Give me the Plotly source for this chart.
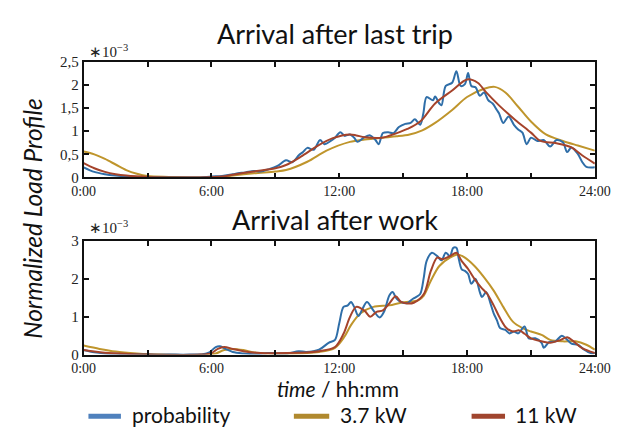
import plotly.graph_objects as go

# ---------------- data (values in units of 1e-3) ----------------
# Top panel: Arrival after last trip
top_prob_t = [0, 0.5, 1.0, 1.5, 2.0, 2.5, 3, 4, 5, 5.5, 6.0, 6.5, 7.0, 7.25, 7.6, 8.0, 8.3, 8.7, 9.1, 9.5,
              9.8, 10.1, 10.3, 10.5, 10.8, 11.1, 11.3, 11.6, 11.8, 12.05, 12.25, 12.5, 12.7, 12.85, 13.15,
              13.45, 13.7, 13.85, 14.05, 14.3, 14.55, 14.8, 15.1, 15.35, 15.55, 15.8, 15.95, 16.1, 16.4,
              16.5, 16.7, 16.8, 17.0, 17.3, 17.5, 17.7, 17.9, 18.05, 18.2, 18.4, 18.6, 18.8, 19.0, 19.2,
              19.4, 19.5, 19.7, 19.95, 20.2, 20.4, 20.6, 20.8, 21.0, 21.3, 21.6, 21.9, 22.2, 22.5, 22.7,
              22.9, 23.2, 23.4, 23.6, 24.0]
top_prob_v = [0.22, 0.12, 0.07, 0.04, 0.02, 0.01, 0.0, 0.0, 0.0, 0.0, 0.02, 0.03, 0.07, 0.09, 0.11, 0.14, 0.13,
              0.18, 0.25, 0.37, 0.33, 0.48, 0.55, 0.64, 0.60, 0.81, 0.72, 0.79, 0.86, 0.98, 0.90, 0.93, 0.86,
              0.77, 0.86, 0.91, 0.81, 0.72, 0.96, 0.98, 0.96, 1.09, 1.16, 1.18, 1.26, 1.14, 1.39, 1.74, 1.67,
              1.75, 1.60, 1.56, 1.98, 2.05, 2.30, 1.98, 2.02, 2.26, 1.98, 1.95, 1.77, 1.84, 1.67, 1.60, 1.46,
              1.39, 1.18, 1.32, 1.14, 1.04, 0.97, 0.72, 0.86, 0.79, 0.81, 0.67, 0.81, 0.76, 0.55, 0.65, 0.51,
              0.34, 0.23, 0.22]

top_11kw_t = [0, 0.5, 1, 1.5, 2, 3, 4, 5.5, 6.5, 7, 8.0, 9.0, 9.5, 10.2, 11.0, 11.7, 12.5, 12.8, 13.2, 14.0,
              14.7, 15.2, 15.8, 16.5, 17.3, 18.0, 18.5, 18.9, 19.5, 20.25, 21.0, 21.45, 22.2, 22.9, 23.4, 24.0]
top_11kw_v = [0.31, 0.20, 0.12, 0.07, 0.04, 0.01, 0.0, 0.0, 0.02, 0.06, 0.13, 0.20, 0.27, 0.45, 0.69, 0.85,
              0.93, 0.91, 0.87, 0.86, 0.96, 1.05, 1.21, 1.60, 1.88, 2.12, 2.05, 1.84, 1.56, 1.25, 0.97, 0.79,
              0.74, 0.65, 0.48, 0.30]

top_37kw_t = [0, 0.5, 1, 1.5, 2, 2.5, 3, 4, 5, 6, 6.5, 7, 8, 9, 9.5, 10.5, 11.4, 12.5, 13.2, 14.0, 14.7,
              15.3, 15.9, 16.5, 17.3, 18.0, 18.8, 19.3, 19.8, 20.4, 21.0, 21.7, 22.5, 23.2, 24.0]
top_37kw_v = [0.56, 0.50, 0.40, 0.28, 0.16, 0.08, 0.03, 0.01, 0.0, 0.0, 0.01, 0.04, 0.09, 0.13, 0.16, 0.34,
              0.58, 0.77, 0.82, 0.86, 0.89, 0.93, 1.02, 1.18, 1.46, 1.74, 1.92, 1.96, 1.84, 1.53, 1.21, 0.93,
              0.79, 0.69, 0.58]

# Bottom panel: Arrival after work
bot_prob_t = [0, 0.5, 1, 1.5, 2, 3, 4, 5, 5.6, 5.9, 6.2, 6.4, 6.7, 7.0, 7.5, 8.1, 8.65, 9.1, 9.55, 10.1,
              10.45, 11.05, 11.5, 11.8, 12.0, 12.2, 12.4, 12.55, 12.7, 12.9, 13.1, 13.3, 13.6, 13.9, 14.1,
              14.35, 14.5, 14.7, 14.9, 15.2, 15.4, 15.6, 15.8, 15.97, 16.1, 16.35, 16.6, 16.8, 17.0, 17.2,
              17.35, 17.5, 17.6, 17.75, 17.9, 18.05, 18.2, 18.4, 18.6, 18.7, 18.9, 19.1, 19.25, 19.4, 19.55,
              19.8, 20.0, 20.2, 20.4, 20.7, 20.9, 21.2, 21.5, 21.6, 21.85, 22.15, 22.45, 22.7, 22.9, 23.2,
              23.5, 23.8, 24.0]
bot_prob_v = [0.12, 0.06, 0.03, 0.02, 0.01, 0.0, 0.0, 0.0, 0.01, 0.06, 0.20, 0.22, 0.14, 0.07, 0.03, 0.01,
              0.04, 0.03, 0.03, 0.09, 0.07, 0.13, 0.31, 0.39, 0.83, 1.26, 1.30, 1.39, 1.26, 1.02, 1.22, 1.39,
              1.17, 0.98, 1.13, 1.56, 1.65, 1.47, 1.39, 1.36, 1.45, 1.52, 1.60, 2.04, 2.47, 2.69, 2.60, 2.49,
              2.69, 2.60, 2.82, 2.82, 2.56, 2.25, 2.21, 2.13, 1.87, 2.00, 1.65, 1.52, 1.65, 1.35, 1.09, 0.91,
              0.70, 0.65, 0.56, 0.61, 0.56, 0.74, 0.43, 0.43, 0.31, 0.18, 0.33, 0.35, 0.50, 0.39, 0.29, 0.26,
              0.13, 0.04, 0.04]

bot_11kw_t = [0, 0.5, 1, 2, 3, 5.5, 6.0, 6.3, 6.6, 7.0, 7.5, 8.1, 9.55, 11.05, 11.8, 12.2, 12.5, 12.8, 13.2,
              13.45, 13.75, 14.05, 14.35, 14.65, 14.9, 15.2, 15.5, 15.97, 16.3, 16.6, 16.85, 17.2, 17.5,
              17.75, 18.05, 18.35, 18.65, 18.95, 19.25, 19.55, 19.85, 20.15, 20.45, 20.7, 21.0, 21.5, 21.9,
              22.4, 22.7, 23.0, 23.4, 24.0]
bot_11kw_v = [0.12, 0.08, 0.05, 0.02, 0.0, 0.0, 0.04, 0.15, 0.20, 0.15, 0.09, 0.05, 0.04, 0.09, 0.20, 0.55,
              0.99, 1.26, 1.15, 1.00, 1.13, 1.17, 1.35, 1.54, 1.39, 1.35, 1.37, 1.60, 2.21, 2.56, 2.52, 2.60,
              2.69, 2.47, 2.26, 2.00, 1.78, 1.60, 1.30, 0.96, 0.70, 0.61, 0.64, 0.55, 0.43, 0.35, 0.31, 0.39,
              0.46, 0.35, 0.17, 0.04]

bot_37kw_t = [0, 0.75, 1.5, 2.5, 3.5, 5.8, 6.2, 6.6, 7.0, 7.5, 8.1, 9.55, 11.05, 11.8, 12.25, 12.55, 13.0,
              13.6, 14.35, 14.9, 15.5, 15.7, 15.97, 16.3, 16.7, 17.2, 17.6, 17.9, 18.35, 18.8, 19.25, 19.7,
              20.15, 20.6, 21.0, 21.5, 21.9, 22.5, 23.1, 23.6, 24.0]
bot_37kw_v = [0.24, 0.15, 0.08, 0.03, 0.0, 0.0, 0.03, 0.12, 0.15, 0.12, 0.05, 0.03, 0.07, 0.18, 0.48, 0.78,
              1.09, 1.26, 1.30, 1.37, 1.41, 1.43, 1.56, 1.95, 2.34, 2.56, 2.64, 2.56, 2.34, 2.04, 1.69, 1.26,
              0.87, 0.70, 0.61, 0.52, 0.39, 0.35, 0.35, 0.26, 0.13]

x_tickvals = [0, 6, 12, 18, 24]
x_ticktext = ["0:00", "6:00", "12:00", "18:00", "24:00"]
x_minor_tickvals = [3, 9, 15, 21]
top_y_tickvals = [0, 0.5, 1, 1.5, 2, 2.5]
top_y_ticktext = ["0", "0,5", "1", "1,5", "2", "2,5"]
bot_y_tickvals = [0, 1, 2, 3]
bot_y_ticktext = ["0", "1", "2", "3"]

series_names = ["probability", "3.7 kW", "11 kW"]

# ---------------- style ----------------
W, H = 629, 430
C_PROB = "#2f6ea8"
C_37 = "#bf952c"
C_11 = "#a5432b"
LEG_PROB = "#4f81bd"
LEG_37 = "#b0892e"
LEG_11 = "#a0452e"
SERIF = "Liberation Serif"
SANS = "Lato"


def px_x(p):
    return p / W


def px_y(p):
    return 1 - p / H


fig = go.Figure()

def add(t, v, color, xa, ya, width=2.0):
    fig.add_trace(go.Scatter(x=t, y=v, mode="lines", xaxis=xa, yaxis=ya, showlegend=False,
                             line=dict(color=color, width=width, shape="spline", smoothing=0.9),
                             hoverinfo="skip"))

add(top_37kw_t, top_37kw_v, C_37, "x", "y")
add(top_prob_t, top_prob_v, C_PROB, "x", "y")
add(top_11kw_t, top_11kw_v, C_11, "x", "y")
add(bot_37kw_t, bot_37kw_v, C_37, "x2", "y2")
add(bot_prob_t, bot_prob_v, C_PROB, "x2", "y2")
add(bot_11kw_t, bot_11kw_v, C_11, "x2", "y2")

xcommon = dict(range=[0, 24], tickvals=x_tickvals, ticktext=x_ticktext, ticks="inside", ticklen=5,
               tickwidth=1.5, tickcolor="#111", mirror="allticks", showline=True, linewidth=1.8,
               linecolor="#111", showgrid=False, zeroline=False,
               minor=dict(tickvals=x_minor_tickvals, ticks="inside", ticklen=5, tickwidth=1.5,
                          tickcolor="#111", showgrid=False),
               tickfont=dict(family=SERIF, size=14, color="#222"), fixedrange=True)
ycommon = dict(ticks="inside", ticklen=5, tickwidth=1.5, tickcolor="#111", mirror="allticks",
               showline=True, linewidth=1.8, linecolor="#111", showgrid=False, zeroline=False,
               tickfont=dict(family=SERIF, size=15, color="#222"), fixedrange=True)

xdom = [px_x(75), px_x(610)]
fig.update_layout(
    width=W, height=H, margin=dict(l=0, r=0, t=0, b=0),
    paper_bgcolor="white", plot_bgcolor="white",
    xaxis=dict(domain=xdom, anchor="y", **xcommon),
    yaxis=dict(domain=[px_y(176), px_y(56)], anchor="x", range=[0, 2.5],
               tickvals=top_y_tickvals, ticktext=top_y_ticktext, **ycommon),
    xaxis2=dict(domain=xdom, anchor="y2", **xcommon),
    yaxis2=dict(domain=[px_y(360), px_y(242)], anchor="x2", range=[0, 3],
                tickvals=bot_y_tickvals, ticktext=bot_y_ticktext, **ycommon),
)

ann = []
ann.append(dict(text="Arrival after last trip", x=px_x(338), y=px_y(27), xref="paper", yref="paper",
                showarrow=False, font=dict(family=SANS, size=27, color="#111"), xanchor="center",
                yanchor="middle"))
ann.append(dict(text="Arrival after work", x=px_x(338), y=px_y(220), xref="paper", yref="paper",
                showarrow=False, font=dict(family=SANS, size=27, color="#111"), xanchor="center",
                yanchor="middle"))
for yy in (45, 227):
    ann.append(dict(text="∗10<sup>−3</sup>", x=px_x(78), y=px_y(yy), xref="paper", yref="paper",
                    showarrow=False, font=dict(family=SERIF, size=15, color="#222"), xanchor="left",
                    yanchor="middle"))
ann.append(dict(text="<i>Normalized Load Profile</i>", x=px_x(22), y=px_y(219), xref="paper", yref="paper",
                showarrow=False, textangle=-90, font=dict(family=SANS, size=24.5, color="#111"),
                xanchor="center", yanchor="middle"))
ann.append(dict(text="<i>time</i> / hh:mm", x=px_x(341), y=px_y(395), xref="paper", yref="paper",
                showarrow=False, font=dict(family=SANS, size=21, color="#111"),
                xanchor="center", yanchor="middle"))

# manual legend
legend_items = [(series_names[0], LEG_PROB, 80, 114, 124),
                (series_names[1], LEG_37, 295, 332, 341),
                (series_names[2], LEG_11, 481, 516, 524)]
shapes = []
for name, col, x0, x1, xt in legend_items:
    shapes.append(dict(type="line", xref="paper", yref="paper", x0=px_x(x0), x1=px_x(x1),
                       y0=px_y(424), y1=px_y(424), line=dict(color=col, width=5)))
    ann.append(dict(text=name, x=px_x(xt), y=px_y(422), xref="paper", yref="paper", showarrow=False,
                    font=dict(family=SANS, size=21, color="#111"), xanchor="left", yanchor="middle"))

fig.update_layout(annotations=ann, shapes=shapes)
fig.write_html("out.html")
